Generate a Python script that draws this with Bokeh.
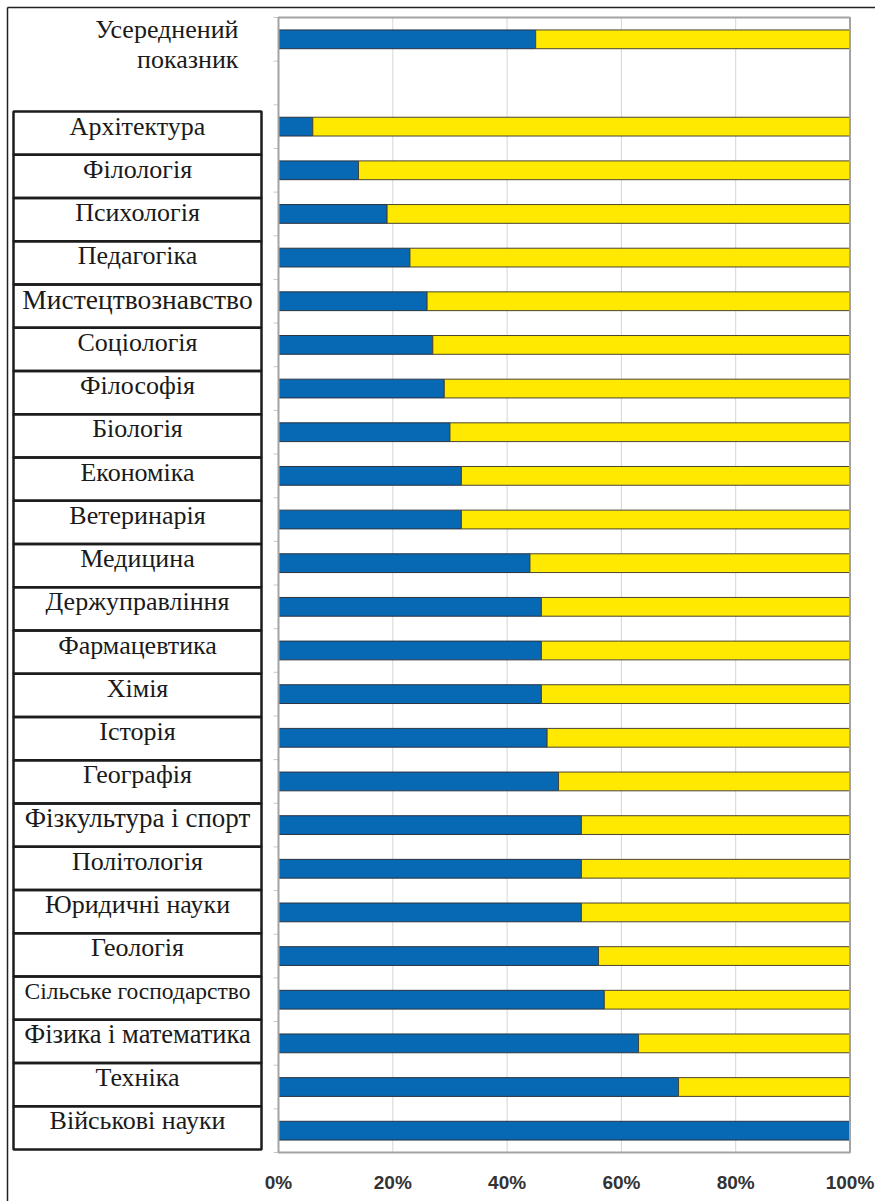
from bokeh.plotting import figure
from bokeh.models import Range1d, ColumnDataSource
from bokeh.core.properties import value
from bokeh.embed import file_html
from bokeh.resources import INLINE

# ---------------- data ----------------
avg_label_lines = ["Усереднений", "показник"]
avg_blue = [45]
avg_yellow = [55]

fields = [
    "Архітектура", "Філологія", "Психологія", "Педагогіка", "Мистецтвознавство",
    "Соціологія", "Філософія", "Біологія", "Економіка", "Ветеринарія",
    "Медицина", "Держуправління", "Фармацевтика", "Хімія", "Історія",
    "Географія", "Фізкультура і спорт", "Політологія", "Юридичні науки", "Геологія",
    "Сільське господарство", "Фізика і математика", "Техніка", "Військові науки",
]
blue = [6, 14, 19, 23, 26, 27, 29, 30, 32, 32,
        44, 46, 46, 46, 47, 49, 53, 53, 53, 56,
        57, 63, 70, 100]
yellow = [94, 86, 81, 77, 74, 73, 71, 70, 68, 68,
          56, 54, 54, 54, 53, 51, 47, 47, 47, 44,
          43, 37, 30, 0]

ticks = [0, 20, 40, 60, 80, 100]
tick_labels = ["0%", "20%", "40%", "60%", "80%", "100%"]

# ---------------- layout / style constants ----------------
W, H = 875, 1201
PX0 = 278.0                      # pixel of 0 %
PXPER = (849.5 - 278.0) / 100.0  # pixels per percent
ROW_TOP = 17.0
N_ROWS = 2 + len(fields)
ROW_H = (1152.0 - ROW_TOP) / N_ROWS
BASE_SHIFT = 9.5                 # renderer's alphabetic-baseline offset


def X(px):
    return (px - PX0) / PXPER


def Y(py):
    return (py - ROW_TOP) / ROW_H - 0.5


BLUE = "#0768b3"
YELLOW = "#ffe900"
SERIF = value("Liberation Serif")
LABEL_SIZE = 26
size_override = {"Мистецтвознавство": 27.5, "Фізкультура і спорт": 27,
                 "Сільське господарство": 23.5, "Фізика і математика": 26.5}

p = figure(width=W, height=H, output_backend="svg", toolbar_location=None,
           x_axis_type=None, y_axis_type=None,
           x_range=Range1d(X(0), X(W)), y_range=Range1d(Y(H), Y(0)),
           min_border=0, min_border_left=0, min_border_right=0,
           min_border_top=0, min_border_bottom=0)
p.outline_line_color = None
p.background_fill_color = "white"
p.border_fill_color = "white"
p.xgrid.visible = False
p.ygrid.visible = False

top_edge = -0.5
bottom_edge = N_ROWS - 0.5

# vertical grid lines
p.segment(x0=ticks, x1=ticks, y0=[top_edge] * len(ticks), y1=[bottom_edge] * len(ticks),
          line_color="#d6d6d6", line_width=1)

# small category tick marks on the left
bounds = [k - 0.5 for k in range(N_ROWS + 1)]
p.segment(x0=[X(273)] * len(bounds), x1=[0] * len(bounds), y0=bounds, y1=bounds,
          line_color="#c8c8c8", line_width=1)

# bars
rows = [0] + [2 + i for i in range(len(fields))]
blues = avg_blue + blue
yellows = avg_yellow + yellow
src = ColumnDataSource(dict(
    y=rows,
    b=blues,
    yl=[b + yv for b, yv in zip(blues, yellows)],
))
BAR_H = 0.43
p.hbar(y="y", left=0, right="b", height=BAR_H, source=src,
       fill_color=BLUE, line_color="#2a3340", line_width=1)
p.hbar(y="y", left="b", right="yl", height=BAR_H, source=src,
       fill_color=YELLOW, line_color="#4a4530", line_width=1)

# plot border
p.quad(left=[0], right=[100], top=[top_edge], bottom=[bottom_edge],
       fill_color=None, line_color="#a3a3a3", line_width=2)

# x tick labels
p.text(x=ticks, y=[Y(1182)] * len(ticks), text=tick_labels,
       text_align="center", text_baseline="middle",
       text_font=value("Liberation Sans"), text_font_style="bold",
       text_font_size="19px", text_color="#333333")

# label table
T_TOP, T_BOT = 111.0, 1149.0
T_H = (T_BOT - T_TOP) / len(fields)
cell_top = [Y(T_TOP + i * T_H) for i in range(len(fields))]
cell_bot = [Y(T_TOP + (i + 1) * T_H) for i in range(len(fields))]
p.quad(left=[X(13)] * len(fields), right=[X(261)] * len(fields),
       top=cell_top, bottom=cell_bot,
       fill_color=None, line_color="#1c1c1c", line_width=2.5)

lab_src = ColumnDataSource(dict(
    x=[X(137)] * len(fields),
    y=[Y(T_TOP + i * T_H + 24 - BASE_SHIFT) for i in range(len(fields))],
    text=fields,
    size=["%gpx" % size_override.get(f, LABEL_SIZE) for f in fields],
))
p.text(x="x", y="y", text="text", text_font_size="size", source=lab_src,
       text_align="center", text_baseline="alphabetic",
       text_font=SERIF, text_color="#1a1a1a")

# averaged indicator label
p.text(x=[X(238)] * 2, y=[Y(38 - BASE_SHIFT), Y(68 - BASE_SHIFT)], text=avg_label_lines,
       text_align="right", text_baseline="alphabetic",
       text_font=SERIF, text_font_size="%dpx" % LABEL_SIZE, text_color="#1a1a1a")

# outer frame lines (top and left)
p.segment(x0=[X(7), X(7)], x1=[X(W), X(7)], y0=[Y(7), Y(7)], y1=[Y(7), Y(H)],
          line_color="#222222", line_width=1.5)

open("out.html", "w").write(file_html(p, INLINE))
